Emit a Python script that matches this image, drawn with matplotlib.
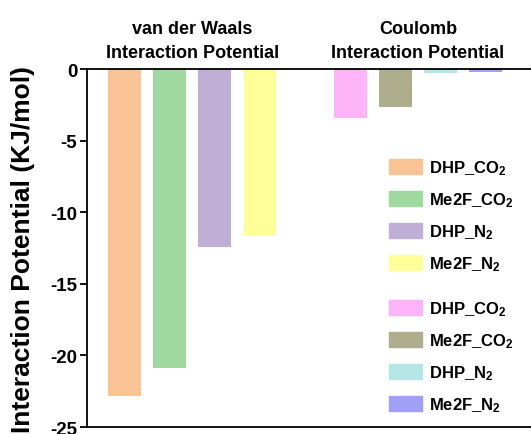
import numpy as np
from matplotlib import pyplot as plt
from matplotlib.patches import Patch

plt.rcParams['font.family'] = 'Liberation Sans'
plt.rcParams['font.weight'] = 'bold'
plt.rcParams['mathtext.fontset'] = 'custom'
plt.rcParams['mathtext.rm'] = 'Liberation Sans:bold'
plt.rcParams['mathtext.bf'] = 'Liberation Sans:bold'
plt.rcParams['mathtext.default'] = 'bf'

labels = ['DHP_CO$_2$', 'Me2F_CO$_2$', 'DHP_N$_2$', 'Me2F_N$_2$']
vdw = [-22.8, -20.9, -12.4, -11.6]
coulomb = [-3.4, -2.65, -0.25, -0.2]
cores_vdw = ['#f9c396', '#a0d9a0', '#bfafd7', '#ffff9a']
cores_coul = ['#ffb4f8', '#aeae8e', '#b4e6e6', '#a0a0f8']

x1 = np.arange(4)
x2 = x1 + 5

fig = plt.figure(figsize=(5.31, 4.35), dpi=100)
ax = fig.add_axes([0.164, 0.016, 0.84, 0.823])

ax.bar(x1, vdw, width=0.73, color=cores_vdw)
ax.bar(x2, coulomb, width=0.73, color=cores_coul)

ax.set_xlim(-0.83, 9.05)
ax.set_ylim(-25, 0)
ax.set_yticks([0, -5, -10, -15, -20, -25])
ax.set_yticklabels(['0', '-5', '-10', '-15', '-20', '-25'])
ax.set_xticks([])
ax.tick_params(axis='y', direction='out', length=5, width=1.3, labelsize=13.5, pad=2)
for s in ax.spines.values():
    s.set_linewidth(1.3)
ax.spines['right'].set_visible(False)
ax.set_ylabel('Interaction Potential (KJ/mol)', fontsize=19, fontweight='bold', labelpad=11)

ax.text(1.5, 0.55, 'van der Waals\nInteraction Potential', ha='center', va='bottom',
        fontsize=13, fontweight='bold', linespacing=1.55)
ax.text(6.5, 0.55, 'Coulomb\nInteraction Potential', ha='center', va='bottom',
        fontsize=13, fontweight='bold', linespacing=1.55)

h1 = [Patch(color=c, label=l) for c, l in zip(cores_vdw, labels)]
h2 = [Patch(color=c, label=l) for c, l in zip(cores_coul, labels)]
opts = dict(loc='upper left', frameon=False, prop={'size': 12, 'weight': 'bold'},
            handlelength=2.0, handleheight=1.0, labelspacing=0.8, handletextpad=0.4,
            borderpad=0, borderaxespad=0)
leg1 = ax.legend(handles=h1, bbox_to_anchor=(0.676, 0.75), **opts)
ax.add_artist(leg1)
ax.legend(handles=h2, bbox_to_anchor=(0.676, 0.357), **opts)

plt.savefig('out.png', dpi=100)
